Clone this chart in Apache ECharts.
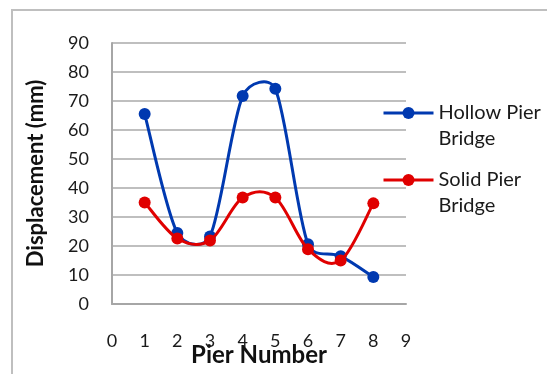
<!DOCTYPE html>
<html>
<head>
<meta charset="utf-8">
<script src="https://cdn.jsdelivr.net/npm/echarts@6/dist/echarts.min.js"></script>
<style>
  html, body { margin: 0; padding: 0; background: #fff; }
  #chart { width: 547px; height: 374px; }
</style>
</head>
<body>
<div id="chart"></div>
<script>
// Pier displacement for the two bridge types
const pierNumbers = [1, 2, 3, 4, 5, 6, 7, 8];
const hollowPier = [65.5, 24.5, 23.3, 71.7, 74.2, 20.6, 16.5, 9.3];
const solidPier = [35.0, 22.6, 21.9, 36.7, 36.7, 18.9, 15.0, 34.7];
const xTicks = [0, 9, 1];   // min, max, step
const yTicks = [0, 90, 10];

const seriesNames = ['Hollow Pier Bridge', 'Solid Pier Bridge'];
const seriesColors = ['#0039B0', '#E00000'];
const font = 'Lato, "Open Sans", sans-serif';

const pairs = (xs, ys) => xs.map((x, i) => [x, ys[i]]);

// Spreadsheet-style smoothed curve: cubic Bezier segments whose tangents
// follow the neighbouring points, shortened next to short segments.
function smoothPath(pts) {
  const n = pts.length;
  const dist = (a, b) => Math.hypot(b[0] - a[0], b[1] - a[1]);
  const tangent = i => {
    const p0 = pts[Math.max(i - 1, 0)];
    const p2 = pts[Math.min(i + 1, n - 1)];
    return [p2[0] - p0[0], p2[1] - p0[1]];
  };
  let d = 'M' + pts[0][0] + ',' + pts[0][1];
  for (let i = 0; i < n - 1; i++) {
    const a = pts[i], b = pts[i + 1];
    const seg = dist(a, b);
    const prev = i > 0 ? dist(pts[i - 1], a) : seg;
    const next = i + 2 < n ? dist(b, pts[i + 2]) : seg;
    const fa = Math.min(1 / 6, 0.5 * seg / (prev + seg));
    const fb = Math.min(1 / 6, 0.5 * seg / (seg + next));
    const ta = tangent(i), tb = tangent(i + 1);
    const c1 = [a[0] + ta[0] * fa, a[1] + ta[1] * fa];
    const c2 = [b[0] - tb[0] * fb, b[1] - tb[1] * fb];
    d += 'C' + c1[0] + ',' + c1[1] + ' ' + c2[0] + ',' + c2[1] + ' ' + b[0] + ',' + b[1];
  }
  return d;
}

function curveSeries(xs, ys, color, z) {
  return {
    type: 'custom',
    coordinateSystem: 'cartesian2d',
    data: pairs(xs, ys),
    silent: true,
    z: z,
    encode: { x: 0, y: 1 },
    renderItem: (params, api) => {
      if (params.dataIndex !== 0) return null;
      const pts = xs.map((x, i) => api.coord([x, ys[i]]));
      return {
        type: 'path',
        shape: { pathData: smoothPath(pts) },
        style: { fill: null, stroke: color, lineWidth: 3, lineJoin: 'round' }
      };
    }
  };
}

// Markers only: the connecting curve comes from curveSeries
function markerSeries(name, xs, ys, color, z) {
  return {
    name: name,
    type: 'line',
    data: pairs(xs, ys),
    symbol: 'circle',
    symbolSize: 12,
    itemStyle: { color: color },
    lineStyle: { color: color, width: 3, opacity: 0 },
    z: z
  };
}

const chart = echarts.init(document.getElementById('chart'), null, { renderer: 'canvas' });

chart.setOption({
  animation: false,
  backgroundColor: '#ffffff',
  graphic: [
    {
      type: 'polyline',
      shape: { points: [[12, 374], [12, 10], [547, 10]] },
      style: { stroke: '#BFBFBF', lineWidth: 2, fill: null },
      silent: true
    }
  ],
  grid: { left: 112, right: 141, top: 43, bottom: 70, outerBoundsMode: 'none', containLabel: false },
  legend: {
    orient: 'vertical',
    left: 382,
    top: 74,
    padding: 0,
    itemWidth: 50,
    itemHeight: 15,
    itemGap: -11,
    data: seriesNames.map((name, i) => ({
      name: name,
      lineStyle: { color: seriesColors[i], width: 3, opacity: 1 },
      itemStyle: { color: seriesColors[i] }
    })),
    // leading blank line keeps the icon level with the first text line
    formatter: name => '\n' + name.replace(' Bridge', '\nBridge'),
    textStyle: {
      fontFamily: font,
      fontSize: 20,
      color: '#1a1a1a',
      lineHeight: 26
    }
  },
  xAxis: {
    type: 'value',
    min: xTicks[0],
    max: xTicks[1],
    interval: xTicks[2],
    name: 'Pier Number',
    nameLocation: 'middle',
    nameGap: 39,
    nameMoveOverlap: false,
    nameTextStyle: { fontFamily: font, fontSize: 24, fontWeight: 'bold', color: '#111' },
    axisLine: { show: true, lineStyle: { color: '#A6A6A6', width: 2 } },
    axisTick: { show: false },
    axisLabel: { fontFamily: font, fontSize: 18, color: '#1a1a1a', margin: 28 },
    splitLine: { show: false }
  },
  yAxis: {
    type: 'value',
    min: yTicks[0],
    max: yTicks[1],
    interval: yTicks[2],
    name: 'Displacement (mm)',
    nameLocation: 'middle',
    nameGap: 65,
    nameMoveOverlap: false,
    nameRotate: 90,
    nameTextStyle: { fontFamily: font, fontSize: 22, fontWeight: 'bold', color: '#111' },
    axisLine: { show: true, lineStyle: { color: '#A6A6A6', width: 2 } },
    axisTick: { show: false },
    axisLabel: { fontFamily: font, fontSize: 18, color: '#1a1a1a', margin: 23 },
    splitLine: { show: true, lineStyle: { color: '#BFBFBF', width: 2 } }
  },
  series: [
    curveSeries(pierNumbers, hollowPier, seriesColors[0], 2),
    markerSeries(seriesNames[0], pierNumbers, hollowPier, seriesColors[0], 3),
    curveSeries(pierNumbers, solidPier, seriesColors[1], 4),
    markerSeries(seriesNames[1], pierNumbers, solidPier, seriesColors[1], 5)
  ]
});
</script>
</body>
</html>
